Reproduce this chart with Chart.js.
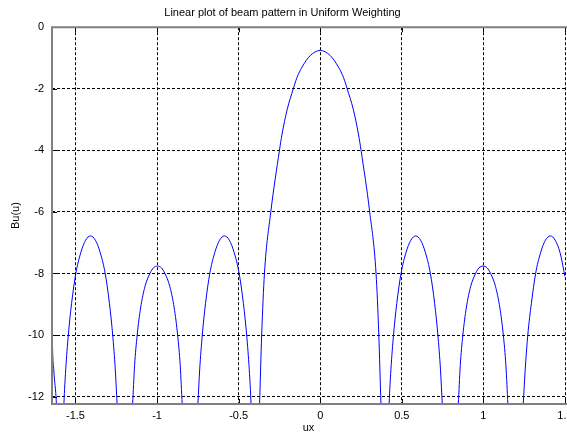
<!DOCTYPE html>
<html>
<head>
<meta charset="utf-8">
<title>Beam pattern - uniform weighting</title>
<script src="https://cdn.jsdelivr.net/npm/chart.js@4.4.0/dist/chart.umd.min.js"></script>
<style>
  html, body { margin: 0; padding: 0; background: #fff; overflow: hidden; }
  canvas { display: block; }
</style>
</head>
<body>
<canvas id="beamChart" width="585" height="435" style="width:585px;height:435px"></canvas>
<script>
// values (the null points sit below the visible range)
const ux = [
  -1.644, -1.642, -1.633, -1.617, -1.594,
  -1.571, -1.560, -1.544, -1.524, -1.498, -1.468, -1.438, -1.408, -1.378, -1.348, -1.318, -1.292, -1.272, -1.256, -1.245, -1.197,
  -1.150, -1.138, -1.122, -1.101, -1.074, -1.044, -1.023, -0.998, -0.973, -0.952, -0.922, -0.895, -0.874, -0.858, -0.846, -0.800,
  -0.750, -0.739, -0.723, -0.703, -0.677, -0.647, -0.617, -0.587, -0.557, -0.527, -0.497, -0.471, -0.451, -0.435, -0.424, -0.399,
  -0.372, -0.359, -0.342, -0.303, -0.250, -0.235, -0.203, -0.165, -0.143, -0.112, -0.061, 0,
  0.061, 0.112, 0.143, 0.165, 0.203, 0.235, 0.250, 0.303, 0.342, 0.359, 0.372, 0.398,
  0.422, 0.433, 0.449, 0.469, 0.495, 0.525, 0.555, 0.585, 0.615, 0.645, 0.675, 0.701, 0.721, 0.737, 0.748, 0.798,
  0.846, 0.858, 0.874, 0.895, 0.922, 0.952, 0.973, 0.998, 1.023, 1.044, 1.074, 1.101, 1.122, 1.138, 1.150, 1.196,
  1.244, 1.256, 1.272, 1.294, 1.320, 1.350, 1.380, 1.410, 1.440, 1.470, 1.500
];
const bu = [
  -8.75, -10.0, -11.13, -12.24, -16,
  -12.24, -11.13, -10.0, -8.97, -8.0, -7.33, -6.92, -6.78, -6.92, -7.33, -8.0, -8.97, -10.0, -11.13, -12.24, -16,
  -12.24, -11.0, -10.0, -9.12, -8.42, -8.0, -7.82, -7.76, -7.82, -8.0, -8.42, -9.12, -10.0, -11.0, -12.24, -16,
  -12.24, -11.13, -10.0, -8.97, -8.0, -7.33, -6.92, -6.78, -6.92, -7.33, -8.0, -8.97, -10.0, -11.13, -12.24, -16,
  -12.24, -10.0, -8.0, -6.0, -4.0, -3.5, -2.68, -2.0, -1.64, -1.30, -0.92, -0.755,
  -0.92, -1.30, -1.64, -2.0, -2.68, -3.5, -4.0, -6.0, -8.0, -10.0, -12.24, -16,
  -12.24, -11.13, -10.0, -8.97, -8.0, -7.33, -6.92, -6.78, -6.92, -7.33, -8.0, -8.97, -10.0, -11.13, -12.24, -16,
  -12.24, -11.0, -10.0, -9.12, -8.42, -8.0, -7.82, -7.76, -7.82, -8.0, -8.42, -9.12, -10.0, -11.0, -12.24, -16,
  -12.24, -11.13, -10.0, -8.97, -8.0, -7.33, -6.92, -6.78, -6.92, -7.33, -8.1
];
const xTicks = [-1.5, -1, -0.5, 0, 0.5, 1, 1.5];
const yTicks = [0, -2, -4, -6, -8, -10, -12];

const FONT = '"Liberation Sans", Arial, sans-serif';
Chart.defaults.font.family = FONT;
Chart.defaults.font.size = 11;
Chart.defaults.color = '#000';

// MATLAB style box: grey frame plus small inward tick marks
const axisBox = {
  id: 'axisBox',
  afterDraw(chart) {
    const { ctx, chartArea: a, scales } = chart;
    ctx.save();
    ctx.strokeStyle = '#000';
    ctx.lineWidth = 1;
    ctx.beginPath();
    scales.x.ticks.forEach(t => {
      const px = Math.round(scales.x.getPixelForValue(t.value)) + 0.5;
      ctx.moveTo(px, a.bottom); ctx.lineTo(px, a.bottom - 5);
      ctx.moveTo(px, a.top); ctx.lineTo(px, a.top + 5);
    });
    scales.y.ticks.forEach(t => {
      const py = Math.round(scales.y.getPixelForValue(t.value)) + 0.5;
      ctx.moveTo(a.left, py); ctx.lineTo(a.left + 5, py);
    });
    ctx.stroke();

    ctx.strokeStyle = '#808080';
    ctx.lineWidth = 2;
    ctx.beginPath();
    ctx.moveTo(a.right + 2, a.top);
    ctx.lineTo(a.left, a.top);
    ctx.lineTo(a.left, a.bottom);
    ctx.lineTo(a.right + 2, a.bottom);
    ctx.stroke();
    ctx.restore();
  }
};

new Chart(document.getElementById('beamChart'), {
  type: 'line',
  data: {
    datasets: [{
      label: 'Bu(u)',
      data: ux.map((u, i) => ({ x: u, y: bu[i] })),
      borderColor: '#0000ff',
      borderWidth: 1,
      pointRadius: 0,
      cubicInterpolationMode: 'monotone',
      fill: false
    }]
  },
  options: {
    responsive: false,
    animation: false,
    layout: { padding: { left: 0, right: 20, top: 0, bottom: 0 } },
    plugins: {
      legend: { display: false },
      tooltip: { enabled: false },
      title: {
        display: true,
        text: 'Linear plot of beam pattern in Uniform Weighting',
        font: { size: 11, weight: 'normal' },
        color: '#000',
        padding: { top: 6, bottom: 8 }
      }
    },
    scales: {
      x: {
        type: 'linear',
        min: -1.644,
        max: 1.5,
        afterBuildTicks: s => { s.ticks = xTicks.map(v => ({ value: v })); },
        afterFit: s => { s.height = 31; },
        ticks: { padding: 5, maxRotation: 0, callback: v => String(v) },
        grid: { color: '#000', lineWidth: 1, drawTicks: false },
        border: { display: false, dash: [3, 2] },
        title: { display: true, text: 'ux', padding: { top: 0, bottom: 0 } }
      },
      y: {
        type: 'linear',
        min: -12.24,
        max: 0,
        afterBuildTicks: s => { s.ticks = yTicks.map(v => ({ value: v })); },
        afterFit: s => { s.width = 52; },
        ticks: { padding: 8, callback: v => String(v) },
        grid: { color: '#000', lineWidth: 1, drawTicks: false },
        border: { display: false, dash: [3, 2] },
        title: { display: true, text: 'Bu(u)', padding: { top: 9, bottom: 0 } }
      }
    }
  },
  plugins: [axisBox]
});
</script>
</body>
</html>
